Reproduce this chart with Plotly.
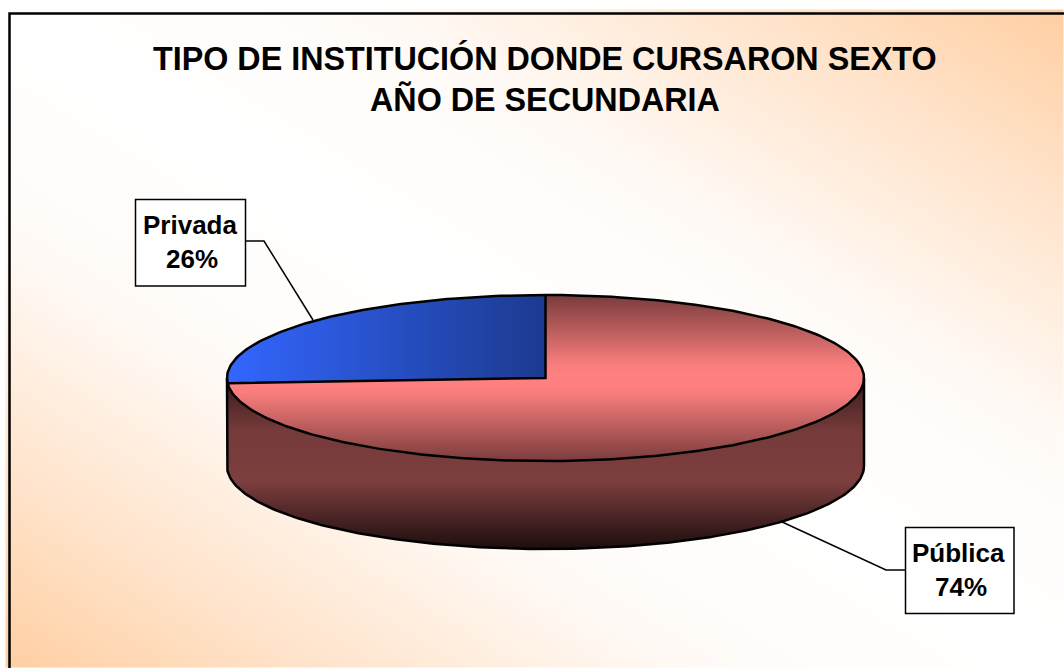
import numpy as np
import plotly.graph_objects as go

# ---- data ----
categories = ["Privada", "Pública"]
shares = [26, 74]
title_lines = ["TIPO DE INSTITUCIÓN DONDE CURSARON SEXTO", "AÑO DE SECUNDARIA"]

W, H = 1064, 668
# pie geometry in pixels-as-axis-units
CX, CY, RX, RY, DEPTH = 545.5, 378.0, 318.5, 83.0, 88.0
FRAME_L, FRAME_T = 9.5, 13.5

RED_TOP = [[0.0, "#7a3c3c"], [0.42, "#fb7e7e"], [0.5, "#ff8080"], [0.58, "#fb7e7e"], [1.0, "#7a3c3c"]]
RED_SIDE = [[0.0, "#361a1a"], [0.3, "#753a3a"], [0.6, "#7d3e3e"], [1.0, "#1c0d0d"]]
BLUE_TOP = [[0.0, "#3366ff"], [1.0, "#1c3a8f"]]
BG = [[0.0, "#ffffff"], [0.35, "#fffaf6"], [0.7, "#ffe4cc"], [1.0, "#ffcfa3"]]

fig = go.Figure()

# background: diagonal two-way gradient
bx = np.linspace(FRAME_L, W + 8, 134)
by = np.linspace(FRAME_T, H + 8, 84)
BX, BY = np.meshgrid(bx, by)
bz = np.clip(np.abs((BX - FRAME_L) / (W - FRAME_L) - (BY - FRAME_T) / (H - FRAME_T)), 0, 1)
fig.add_trace(go.Heatmap(x=bx, y=by, z=bz, colorscale=BG, zmin=0, zmax=1, zsmooth="best",
                         showscale=False, hoverinfo="skip"))

# chart-area frame, running off the right and bottom of the page
fig.add_trace(go.Scatter(x=[W + 10, FRAME_L, FRAME_L], y=[FRAME_T, FRAME_T, H + 10], mode="lines",
                         line=dict(color="#000000", width=2.5), hoverinfo="skip"))

# slice angle of the first category, measured counter-clockwise from 12 o'clock
boundary = 2 * np.pi * shares[0] / sum(shares)

def ell_x(t):
    return CX - RX * np.sin(t)

def ell_y(t):
    return CY - RY * np.cos(t)

px = np.arange(int(CX - RX) - 1, int(CX + RX) + 3) + 0.0
py = np.arange(int(CY - RY) - 2, int(CY + RY + DEPTH) + 3) + 0.0
PX, PY = np.meshgrid(px, py)
u = (PX - CX) / RX
v = (PY - CY) / RY
in_top = u ** 2 + v ** 2 <= 1
# side wall: inside the swept ellipse, below the centre line, outside the top face
v2 = (PY - CY - DEPTH) / RY
in_side = (np.abs(u) <= 1) & (PY >= CY) & ((u ** 2 + v2 ** 2 <= 1) | (PY <= CY + DEPTH)) & ~in_top
ang = np.mod(np.arctan2(-u, -v), 2 * np.pi)  # ccw from 12 o'clock
in_first = in_top & (ang <= boundary)
in_second = in_top & ~in_first

z_side = np.where(in_side, (PY - CY) / (RY + DEPTH), np.nan)
z_red = np.where(in_second, (PY - (CY - RY)) / (2 * RY), np.nan)
z_blue = np.where(in_first, (PX - (CX - RX)) / RX, np.nan)
for z, cs in [(z_side, RED_SIDE), (z_red, RED_TOP), (z_blue, BLUE_TOP)]:
    fig.add_trace(go.Heatmap(x=px, y=py, z=z, colorscale=cs, zmin=0, zmax=1,
                             showscale=False, hoverinfo="skip", hoverongaps=False))

# outlines
OUT = dict(color="#000000", width=2.5)
t = np.linspace(0, 2 * np.pi, 361)
fig.add_trace(go.Scatter(x=ell_x(t), y=ell_y(t), mode="lines", line=OUT, hoverinfo="skip"))
t2 = np.linspace(np.pi / 2, 3 * np.pi / 2, 181)
fig.add_trace(go.Scatter(
    x=np.r_[CX - RX, ell_x(t2), CX + RX],
    y=np.r_[CY, ell_y(t2) + DEPTH, CY], mode="lines", line=OUT, hoverinfo="skip"))
fig.add_trace(go.Scatter(
    x=[ell_x(0), CX, ell_x(boundary)], y=[ell_y(0), CY, ell_y(boundary)],
    mode="lines", line=OUT, hoverinfo="skip"))

# leader lines
LEADER = dict(color="#000000", width=1.5)
fig.add_trace(go.Scatter(x=[245, 264, 313], y=[241, 241, 320], mode="lines", line=LEADER, hoverinfo="skip"))
fig.add_trace(go.Scatter(x=[905, 886, 780], y=[570, 570, 521], mode="lines", line=LEADER, hoverinfo="skip"))

FONT = "Liberation Sans, Arial, sans-serif"
shapes = [
    dict(type="rect", x0=135.5, y0=199.5, x1=245.5, y1=286, line=dict(color="#000000", width=1.5), fillcolor="#ffffff"),
    dict(type="rect", x0=905.5, y0=527.5, x1=1014, y1=613.5, line=dict(color="#000000", width=1.5), fillcolor="#ffffff"),
]
annotations = [
    dict(x=544.5, y=58, text="<b>%s</b>" % title_lines[0], font=dict(size=32.3, family=FONT, color="#000000")),
    dict(x=545, y=99, text="<b>%s</b>" % title_lines[1], font=dict(size=32.3, family=FONT, color="#000000")),
    dict(x=189.5, y=225, text="<b>%s</b>" % categories[0], font=dict(size=26, family=FONT, color="#000000")),
    dict(x=192, y=259, text="<b>%d%%</b>" % shares[0], font=dict(size=26, family=FONT, color="#000000")),
    dict(x=958.5, y=553, text="<b>%s</b>" % categories[1], font=dict(size=26, family=FONT, color="#000000")),
    dict(x=961, y=587, text="<b>%d%%</b>" % shares[1], font=dict(size=26, family=FONT, color="#000000")),
]
for a in annotations:
    a.update(showarrow=False, xref="x", yref="y", xanchor="center", yanchor="middle")

fig.update_layout(
    width=W, height=H, margin=dict(l=0, r=0, t=0, b=0), showlegend=False,
    paper_bgcolor="#ffffff", plot_bgcolor="#ffffff",
    xaxis=dict(range=[0, W], visible=False, fixedrange=True),
    yaxis=dict(range=[H, 0], visible=False, fixedrange=True),
    shapes=shapes, annotations=annotations,
)
fig.write_html("out.html", config={"displayModeBar": False},
               post_script="document.body.style.margin='0';document.documentElement.style.overflow='hidden';")
